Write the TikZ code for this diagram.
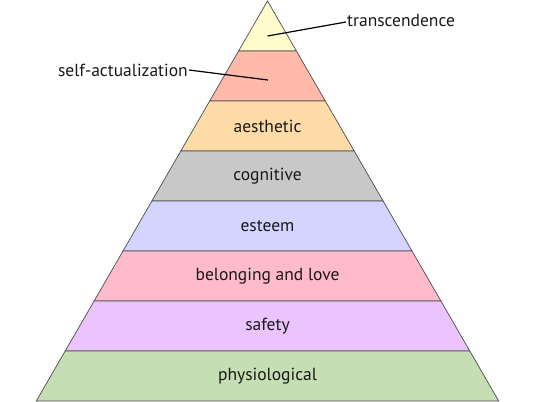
\documentclass[tikz,border=0pt]{standalone}
\usepackage{fontspec}
\setmainfont{PT Sans}
\usetikzlibrary{positioning}
\definecolor{transyellow}{RGB}{255,252,204}
\definecolor{selfsalmon}{RGB}{255,186,170}
\definecolor{aestorange}{RGB}{255,219,168}
\definecolor{coggray}{RGB}{200,200,200}
\definecolor{esteemblue}{RGB}{212,212,255}
\definecolor{lovepink}{RGB}{255,186,204}
\definecolor{safetyviolet}{RGB}{235,195,255}
\definecolor{physgreen}{RGB}{198,222,180}

\begin{document}
\begin{tikzpicture}[x=1pt, y=-1pt,
  layer/.style={draw=black!70, line width=0.7pt},
  lbl/.style={font=\fontsize{17.5}{20}\selectfont, text=black!90},
  pointer/.style={black, line width=1.2pt}]
\useasboundingbox (0,0) rectangle (536,402);
\filldraw[layer, fill=transyellow] (267.5,1) -- (296.4,51) -- (238.6,51) -- cycle;
\filldraw[layer, fill=selfsalmon] (238.6,51) -- (296.4,51) -- (325.3,101) -- (209.7,101) -- cycle;
\filldraw[layer, fill=aestorange] (209.7,101) -- (325.3,101) -- (354.2,151) -- (180.8,151) -- cycle;
\filldraw[layer, fill=coggray] (180.8,151) -- (354.2,151) -- (383.1,201) -- (151.9,201) -- cycle;
\filldraw[layer, fill=esteemblue] (151.9,201) -- (383.1,201) -- (412.0,251) -- (123.0,251) -- cycle;
\filldraw[layer, fill=lovepink] (123.0,251) -- (412.0,251) -- (440.9,301) -- (94.1,301) -- cycle;
\filldraw[layer, fill=safetyviolet] (94.1,301) -- (440.9,301) -- (469.8,351) -- (65.2,351) -- cycle;
\filldraw[layer, fill=physgreen] (65.2,351) -- (469.8,351) -- (498.7,401) -- (36.3,401) -- cycle;
\node[lbl] (aes) at (267.5,126) {aesthetic};
\node[lbl] (cog) at (267.5,176) {cognitive};
\node[lbl] (est) at (267.5,226) {esteem};
\node[lbl] (love) at (267.5,276) {belonging and love};
\node[lbl] (safe) at (267.5,326) {safety};
\node[lbl] (phys) at (267.5,376) {physiological};
\node[lbl, anchor=west, inner sep=1pt] (trans) at (346,20) {transcendence};
\node[lbl, anchor=east, inner sep=1pt] (self) at (189,70) {self-actualization};
\coordinate (transpt) at (267.5,36);
\coordinate (selfpt) at (268,80);
\draw[pointer] ([yshift=-2pt]trans.west) -- (transpt);
\draw[pointer] (self.east) -- (selfpt);
\end{tikzpicture}
\end{document}
